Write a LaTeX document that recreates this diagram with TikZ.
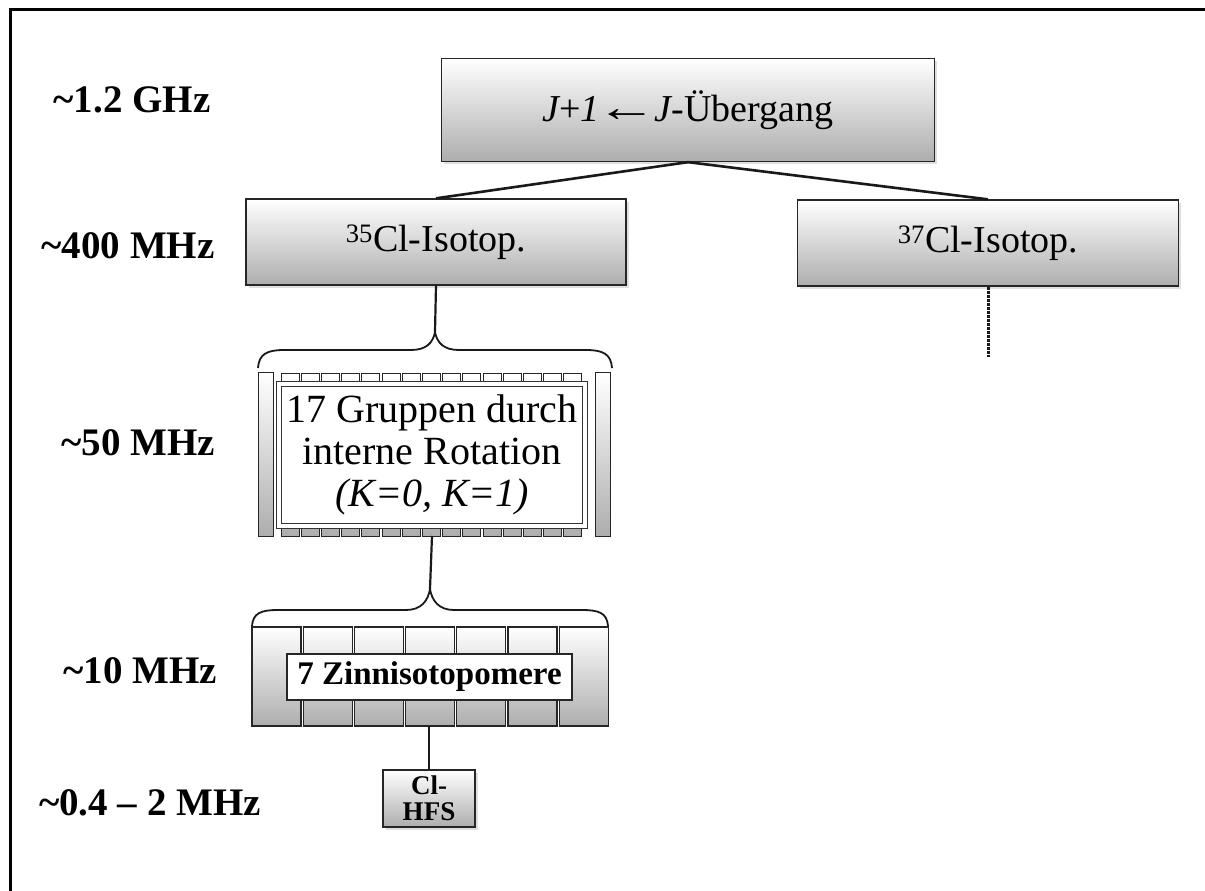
\documentclass[tikz,border=0pt]{standalone}
\usepackage{fontspec}
\setmainfont{Liberation Serif}
\usetikzlibrary{shadows}
\begin{document}
\begin{tikzpicture}[x=1pt,y=-1pt,
  gbox/.style={draw=black!85, line width=1.3pt, top color=white, bottom color=black!32},
  shbox/.style={gbox, drop shadow={shadow xshift=2.5pt, shadow yshift=-2.5pt, opacity=0.25}},
  subbox/.style={draw=black!85, line width=1pt, top color=white, bottom color=black!32},
  lvl/.style={font=\fontsize{39}{42}\selectfont\bfseries, inner sep=0pt, anchor=base},
  conn/.style={line width=2.6pt, draw=black!90},
  brc/.style={line width=1.8pt, draw=black!90},
  wbox/.style={draw=black!85, fill=white, inner sep=0pt}
]
\useasboundingbox (0,0) rectangle (1205,891);
% frame (top and left edges)
\draw[line width=3pt] (10,891) -- (10,10) -- (1205,10);

% level labels
\node[lvl] (l1) at (132,112) {\textasciitilde1.2 GHz};
\node[lvl] (l2) at (128,258) {\textasciitilde400 MHz};
\node[lvl] (l3) at (138,455) {\textasciitilde50 MHz};
\node[lvl] (l4) at (140,683) {\textasciitilde10 MHz};
\node[lvl] (l5) at (150,815) {\textasciitilde0.4 -- 2 MHz};

% top level
\node[shbox, minimum width=493pt, minimum height=103pt, inner sep=0pt,
      font=\fontsize{38}{42}\selectfont] (top) at (688,110)
  {{\itshape J}+{\itshape 1}\kern-3pt\scalebox{1.6}[1.1]{←}\kern-3pt{\itshape J}-Übergang};

% isotopes
\node[shbox, minimum width=380pt, minimum height=86pt, inner sep=0pt,
      font=\fontsize{38}{42}\selectfont] (cl35) at (436,242)
  {\textsuperscript{35}Cl-Isotop.};
\node[shbox, minimum width=381pt, minimum height=86pt, inner sep=0pt,
      font=\fontsize{38}{42}\selectfont] (cl37) at (988,243)
  {\textsuperscript{37}Cl-Isotop.};

\draw[conn] (top.south) -- (cl35.north);
\draw[conn] (top.south) -- (cl37.north);

\coordinate (d37) at (988,357);
\draw[line width=3pt, draw=black!90, dash pattern=on 3pt off 1pt] (cl37.south) -- (d37);

% brace 1
\coordinate (b1) at (435,332);
\draw[line width=2.2pt, draw=black!90] (cl35.south) -- (b1);
\draw[brc] (258,368) .. controls (259,354) and (267,350) .. (284,350) -- (411,350)
  .. controls (426,350) and (433,343) .. (b1)
  .. controls (437,343) and (444,350) .. (459,350) -- (586,350)
  .. controls (603,350) and (611,354) .. (612,368);

% 17 groups block
\path[subbox] (258,372) rectangle (273,536);
\path[subbox] (595,372) rectangle (610,536);
\foreach \i in {0,...,14} {
  \path[subbox] ({281+\i*20.2},373) rectangle ({281+\i*20.2+18},536);
}
\node[draw=black!80, fill=white, line width=1.1pt, double=white, double distance=3.5pt,
      minimum width=306pt, minimum height=142pt, inner sep=0pt, align=center,
      font=\fontsize{40}{42}\selectfont] (grp) at (432,455)
  {17 Gruppen durch\\interne Rotation\\{\itshape (K=0, K=1)}};
\coordinate (blk17) at (432,536);

% brace 2
\coordinate (b2) at (430,589);
\draw[line width=2.2pt, draw=black!90] (blk17) -- (b2);
\draw[brc] (252,626) .. controls (253,613) and (261,610) .. (278,610) -- (406,610)
  .. controls (421,610) and (428,601) .. (b2)
  .. controls (432,601) and (439,610) .. (454,610) -- (582,610)
  .. controls (599,610) and (607,613) .. (608,626);

% tin isotopomer block
\foreach \i in {0,...,6} {
  \path[subbox, line width=1.2pt] ({252+\i*51.2},627) rectangle ({252+\i*51.2+49},726);
}
\node[wbox, line width=1.2pt, minimum width=285pt, minimum height=46pt,
      font=\fontsize{33}{36}\selectfont\bfseries] (zinn) at (429.5,677)
  {7 Zinnisotopomere};
\coordinate (blkz) at (429,726);

% Cl hyperfine
\node[shbox, minimum width=92pt, minimum height=57pt, inner sep=0pt, align=center,
      font=\fontsize{27}{26}\selectfont\bfseries] (hfs) at (429,798.5)
  {Cl-\\HFS};
\draw[line width=2.2pt, draw=black!90] (blkz) -- (hfs.north);
\end{tikzpicture}
\end{document}
